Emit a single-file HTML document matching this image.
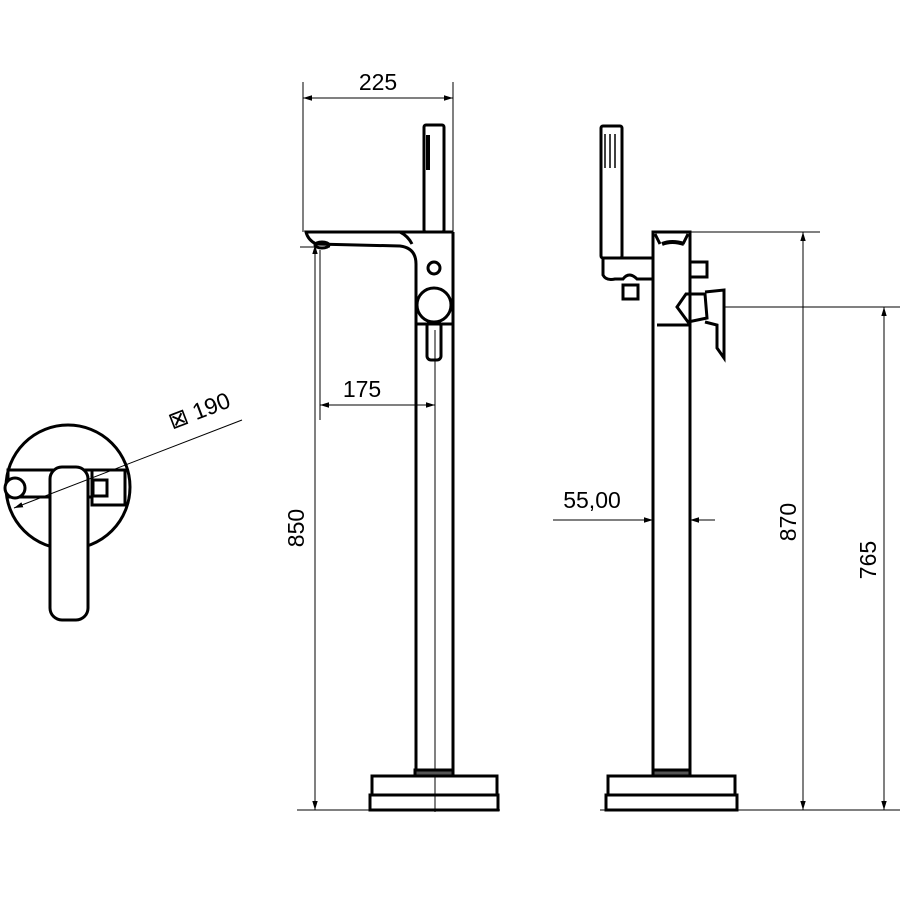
<!DOCTYPE html>
<html><head><style>body{margin:0;background:#fff}svg{display:block}text{font-family:"Liberation Sans",sans-serif;font-size:23px;fill:#000}</style></head><body>
<svg width="900" height="900" viewBox="0 0 900 900" xmlns="http://www.w3.org/2000/svg">
<defs><marker id="a" viewBox="0 0 10 10" refX="10" refY="5" markerWidth="9" markerHeight="9" orient="auto-start-reverse"><path d="M0,2 L10,5 L0,8 z" fill="#000"/></marker></defs>
<g fill="none" stroke="#000">
<g stroke-width="1">
<line x1="303" y1="82" x2="303" y2="232"/><line x1="453" y1="82" x2="453" y2="232"/>
<line x1="303" y1="98" x2="453" y2="98" marker-start="url(#a)" marker-end="url(#a)"/>
<line x1="320" y1="405" x2="435" y2="405" marker-start="url(#a)" marker-end="url(#a)"/>
<line x1="315" y1="245" x2="315" y2="810" marker-start="url(#a)" marker-end="url(#a)"/>
<line x1="320" y1="250" x2="320" y2="420"/>
<line x1="300" y1="247" x2="330" y2="247"/>
<line x1="435" y1="330" x2="435" y2="812"/>
<line x1="297" y1="810" x2="500" y2="810"/>
</g>
<g stroke-width="3">
<rect x="424" y="125" width="20" height="107" rx="2"/>
<path d="M428,135 V170" stroke-width="4"/>
<path d="M453,232 H306 q2,8 10,12 L400,246 q16,2 16,18 V775"/>
<path d="M453,232 V775"/>
<path d="M400,232 q8,4 12,12"/>
<circle cx="434" cy="268" r="6"/>
<circle cx="434" cy="305" r="17"/>
<rect x="427" y="322" width="14" height="38" rx="4"/>
<line x1="416" y1="324" x2="453" y2="324"/>
<ellipse cx="322" cy="245" rx="7" ry="3"/>
<rect x="372" y="776" width="125" height="19"/>
<rect x="370" y="795" width="128" height="15"/>
<rect x="415" y="770" width="38" height="6" fill="#555"/>
</g>
<g stroke-width="1">
<line x1="690" y1="232" x2="820" y2="232"/>
<line x1="803" y1="232" x2="803" y2="810" marker-start="url(#a)" marker-end="url(#a)"/>
<line x1="725" y1="307" x2="900" y2="307"/>
<line x1="884" y1="307" x2="884" y2="810" marker-start="url(#a)" marker-end="url(#a)"/>
<line x1="600" y1="810" x2="900" y2="810"/>
<line x1="553" y1="520" x2="653" y2="520" marker-end="url(#a)"/>
<line x1="715" y1="520" x2="690" y2="520" marker-end="url(#a)"/>
</g>
<g stroke-width="3">
<path d="M653,775 V232 H690 V775"/>
<path d="M655,234 L660,244 M688,234 L683,244"/>
<path d="M662,244 q10,-4 22,0" stroke-width="4"/>
<rect x="601" y="126" width="21" height="132" rx="2"/>
<path d="M605,134 V168 M610,134 V168 M615,134 V168" stroke-width="1.5"/>
<path d="M653,258 H603 V275 q3,6 12,4 h8 q6,-8 14,0 l16,0 z"/>
<rect x="623" y="285" width="15" height="14"/>
<rect x="690" y="262" width="17" height="15"/>
<path d="M686,294 L705,294 L707,318 L688,322 L677,307 Z"/>
<path d="M705,292 L724,290 V358 L717,348 V325 L705,322"/>
<line x1="657" y1="325" x2="690" y2="325"/>
<rect x="608" y="776" width="127" height="19"/>
<rect x="606" y="795" width="131" height="15"/>
<rect x="653" y="770" width="37" height="6" fill="#555"/>
</g>
<g stroke-width="3">
<circle cx="68" cy="487" r="62"/>
<rect x="8" y="470" width="92" height="27" fill="#fff"/>
<circle cx="15" cy="488" r="10" fill="#fff"/>
<rect x="92" y="470" width="33" height="35" fill="#fff"/>
<rect x="93" y="480" width="14" height="16"/>
<rect x="50" y="467" width="38" height="153" rx="12" fill="#fff"/>
</g>
<line x1="14" y1="508" x2="242" y2="420" stroke-width="1" marker-start="url(#a)"/>
</g>
<text x="378" y="90" text-anchor="middle">225</text>
<text x="362" y="397" text-anchor="middle">175</text>
<text x="592" y="508" text-anchor="middle">55,00</text>
<text transform="translate(304,528) rotate(-90)" text-anchor="middle">850</text>
<text transform="translate(796,522) rotate(-90)" text-anchor="middle">870</text>
<text transform="translate(876,560) rotate(-90)" text-anchor="middle">765</text>
<text transform="translate(202,418) rotate(-21)" text-anchor="middle">⊠ 190</text>
</svg>
</body></html>
